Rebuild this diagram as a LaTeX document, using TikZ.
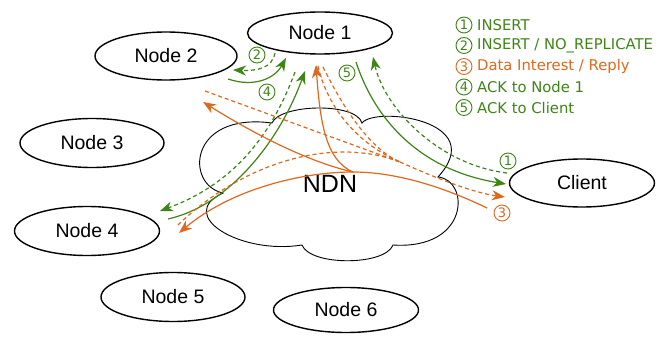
\documentclass[tikz,border=0pt]{standalone}
\usepackage{fontspec}
\setmainfont{Liberation Sans}
\newfontfamily\dvsans{DejaVu Sans}
\usetikzlibrary{shapes.geometric,arrows.meta}
\definecolor{ggreen}{RGB}{62,133,22}
\definecolor{oorange}{RGB}{224,104,28}
\begin{document}
\begin{tikzpicture}[x=1pt,y=-1pt,
  nd/.style={draw, ellipse, line width=1.4pt, inner sep=0pt, font=\fontsize{19.5}{22}\selectfont},
  tip/.style={-{Stealth[length=13pt,width=10pt,inset=4pt]}},
  gsol/.style={ggreen, line width=1.2pt},
  gdsh/.style={ggreen, line width=1.2pt, dash pattern=on 4pt off 3pt},
  osol/.style={oorange, line width=1.2pt},
  odsh/.style={oorange, line width=1.2pt, dash pattern=on 4pt off 3pt},
  cnum/.style={circle, draw, line width=0.9pt, minimum size=16pt, inner sep=0pt, font=\dvsans\fontsize{13}{13}\selectfont},
  legend/.style={anchor=west, inner sep=0pt, font=\dvsans\fontsize{14.8}{16}\selectfont}]
\useasboundingbox (0,0) rectangle (662,337);
\fill[white] (0,0) rectangle (662,337);

% cloud
\draw[line width=0.9pt] (272,123) .. controls (280,104) and (356,102) .. (362,123)
  .. controls (375,106) and (490,120) .. (438,177)
  .. controls (470,180) and (470,250) .. (393,245)
  .. controls (385,266) and (310,266) .. (302,245)
  .. controls (240,255) and (175,215) .. (223,193)
  .. controls (185,185) and (188,112) .. (272,123) -- cycle;
\node[font=\fontsize{25}{28}\selectfont, inner sep=0pt] (ndn) at (330,184) {NDN};

% nodes
\node[nd, minimum width=145pt, minimum height=42pt] (n1) at (320,33) {Node 1};
\node[nd, minimum width=142pt, minimum height=48pt] (n2) at (166,56) {Node 2};
\node[nd, minimum width=144pt, minimum height=49pt] (n3) at (92,143) {Node 3};
\node[nd, minimum width=145pt, minimum height=49pt] (n4) at (87,231) {Node 4};
\node[nd, minimum width=144pt, minimum height=49pt] (n5) at (173,297) {Node 5};
\node[nd, minimum width=145pt, minimum height=45pt] (n6) at (346,310) {Node 6};
\node[nd, minimum width=145pt, minimum height=48pt] (cl) at (582,183) {Client};

% connector end points
\coordinate (g1s) at (507,173);
\coordinate (g1e) at (373,57);
\coordinate (g5s) at (356,62);
\coordinate (g5e) at (506,184);
\coordinate (g2s) at (275,53);
\coordinate (g2e) at (233,70);
\coordinate (g4s) at (228,79);
\coordinate (g4e) at (286,58);
\coordinate (g6s) at (295,72);
\coordinate (g6e) at (160,211);
\coordinate (g7s) at (168,219);
\coordinate (g7e) at (305,71);
\coordinate (j) at (353,172);
\coordinate (r3) at (487,208);
\coordinate (o4e) at (179,233);
\coordinate (o1e) at (316,65);
\coordinate (o2e) at (203,102);
\coordinate (cv) at (400,162);
\coordinate (t3) at (505,197);
\coordinate (dl) at (205,91);
\coordinate (ll) at (178,225);
\coordinate (n1a) at (318,66);
\coordinate (n1b) at (323,67);

% green connectors
\draw[gdsh,tip] (g1s) .. controls (440,165) and (385,110) .. (g1e);
\draw[gsol,tip] (g5s) .. controls (375,120) and (420,170) .. (g5e);
\draw[gdsh,tip] (g2s) .. controls (272,68) and (258,71) .. (g2e);
\draw[gsol,tip] (g4s) .. controls (255,88) and (275,78) .. (g4e);
\draw[gdsh,tip] (g6s) .. controls (270,140) and (230,185) .. (g6e);
\draw[gsol,tip] (g7s) .. controls (230,205) and (280,140) .. (g7e);

% orange connectors
\draw[osol] (r3) .. controls (450,190) and (400,172) .. (j);
\draw[osol,tip] (j) .. controls (300,172) and (230,190) .. (o4e);
\draw[osol,tip] (j) .. controls (325,160) and (320,120) .. (o1e);
\draw[osol,tip] (j) .. controls (300,160) and (240,125) .. (o2e);
\draw[odsh] (dl) -- (cv);
\draw[odsh] (n1a) .. controls (328,110) and (360,145) .. (cv);
\draw[odsh] (n1b) .. controls (342,105) and (368,148) .. (cv);
\draw[odsh] (ll) .. controls (240,165) and (330,135) .. (cv);
\draw[odsh,tip] (cv) .. controls (440,180) and (475,193) .. (t3);

% labels on connectors
\node[cnum, ggreen] (l1) at (508,161) {1};
\node[cnum, ggreen] (l2) at (257,55) {2};
\node[cnum, oorange] (l3) at (502,213) {3};
\node[cnum, ggreen] (l4) at (267,92) {4};
\node[cnum, ggreen] (l5) at (347,73) {5};

% legend
\node[cnum, ggreen] (k1) at (464,25) {1};
\node[cnum, ggreen] (k2) at (464,45.5) {2};
\node[cnum, oorange] (k3) at (464,66.5) {3};
\node[cnum, ggreen] (k4) at (464,87) {4};
\node[cnum, ggreen] (k5) at (464,107.5) {5};
\node[legend, text=ggreen] (lg1) at (477,25) {INSERT};
\node[legend, text=ggreen] (lg2) at (477,45.5) {INSERT / NO\_REPLICATE};
\node[legend, text=oorange] (lg3) at (477,66.5) {Data Interest / Reply};
\node[legend, text=ggreen] (lg4) at (477,87) {ACK to Node 1};
\node[legend, text=ggreen] (lg5) at (477,107.5) {ACK to Client};
\end{tikzpicture}
\end{document}
